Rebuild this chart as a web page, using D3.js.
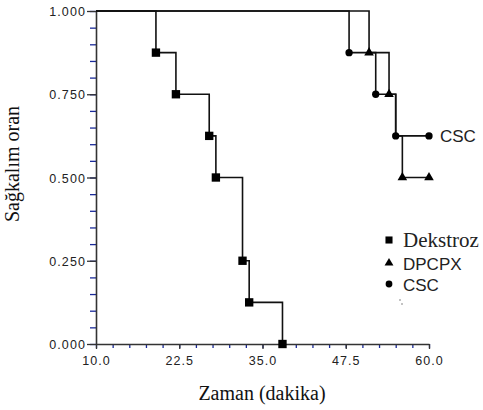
<!DOCTYPE html>
<html>
<head>
<meta charset="utf-8">
<script src="https://cdn.jsdelivr.net/npm/d3@7"></script>
<style>
  html, body { margin: 0; padding: 0; background: #fff; }
  svg { display: block; }
</style>
</head>
<body>
<svg id="chart" width="483" height="410"></svg>
<script>
// Kaplan–Meier style survival curves for three treatment groups
const dekstrozTime = [10, 19, 22, 27, 28, 32, 33, 38];
const dekstrozSurv = [1, 0.875, 0.75, 0.625, 0.5, 0.25, 0.125, 0];

const dpcpxTime = [10, 51, 54, 55, 56, 60];
const dpcpxSurv = [1, 0.875, 0.75, 0.625, 0.5, 0.5];

const cscTime = [10, 48, 52, 55, 60];
const cscSurv = [1, 0.875, 0.75, 0.625, 0.625];

const seriesNames = ["Dekstroz", "DPCPX", "CSC"];
const xTickValues = [10, 22.5, 35, 47.5, 60];
const yTickValues = [0, 0.25, 0.5, 0.75, 1];
const xMinorStep = 2.5;
const yMinorStep = 0.05;

const svg = d3.select("#chart");
const sans = "'Liberation Sans', Arial, sans-serif";
const serif = "'Liberation Serif', 'Times New Roman', serif";

const x = d3.scaleLinear().domain([10, 60]).range([96, 429]);
const y = d3.scaleLinear().domain([0, 1]).range([344, 11]);

const xMinor = d3.range(10, 60 + 1e-9, xMinorStep);
const yMinor = d3.range(0, 1 + 1e-9, yMinorStep);

// minor ticks (blue)
svg.append("g")
  .attr("transform", `translate(${x.range()[0]},0)`)
  .call(d3.axisLeft(y).tickValues(yMinor).tickSize(6).tickFormat(""))
  .call(g => g.select(".domain").remove())
  .call(g => g.selectAll("line").attr("stroke", "#1a2a9a").attr("stroke-width", 1.3));

svg.append("g")
  .attr("transform", `translate(0,${y.range()[0]})`)
  .call(d3.axisBottom(x).tickValues(xMinor).tickSize(4).tickFormat(""))
  .call(g => g.select(".domain").remove())
  .call(g => g.selectAll("line").attr("stroke", "#1a2a9a").attr("stroke-width", 1.3));

// major axes
const yAxis = svg.append("g")
  .attr("transform", `translate(${x.range()[0]},0)`)
  .call(d3.axisLeft(y).tickValues(yTickValues).tickSize(9).tickPadding(1)
    .tickFormat(d3.format(".3f")).tickSizeOuter(0));
yAxis.select(".domain").attr("stroke", "#333").attr("stroke-width", 1.6);
yAxis.selectAll("line").attr("stroke", "#333").attr("stroke-width", 1.3);
yAxis.selectAll("text")
  .attr("font-family", sans).attr("font-size", 12.5)
  .attr("letter-spacing", "1.1px").attr("fill", "#222")
  .attr("dy", "0.36em");

const xAxis = svg.append("g")
  .attr("transform", `translate(0,${y.range()[0]})`)
  .call(d3.axisBottom(x).tickValues(xTickValues).tickSize(5).tickPadding(7)
    .tickFormat(d3.format(".1f")).tickSizeOuter(0));
xAxis.select(".domain").attr("stroke", "#333").attr("stroke-width", 1.6);
xAxis.selectAll("line").attr("stroke", "#333").attr("stroke-width", 1.3);
xAxis.selectAll("text")
  .attr("font-family", sans).attr("font-size", 12.5)
  .attr("letter-spacing", "1.1px").attr("fill", "#222");

// axis titles
svg.append("text")
  .attr("x", 262).attr("y", 400)
  .attr("text-anchor", "middle")
  .attr("font-family", serif).attr("font-size", 20)
  .attr("fill", "#111")
  .text("Zaman (dakika)");

svg.append("text")
  .attr("transform", "translate(19,164) rotate(-90)")
  .attr("text-anchor", "middle")
  .attr("font-family", serif).attr("font-size", 20)
  .attr("fill", "#111")
  .text("Sağkalım oran");

// step curves
const step = d3.line()
  .x(d => x(d[0])).y(d => y(d[1]))
  .curve(d3.curveStepAfter);

const series = [
  { name: seriesNames[0], time: dekstrozTime, surv: dekstrozSurv, symbol: d3.symbolSquare, size: 70 },
  { name: seriesNames[1], time: dpcpxTime, surv: dpcpxSurv, symbol: d3.symbolTriangle, size: 40 },
  { name: seriesNames[2], time: cscTime, surv: cscSurv, symbol: d3.symbolCircle, size: 42 }
];

series.forEach(s => {
  const pts = s.time.map((t, i) => [t, s.surv[i]]);
  svg.append("path")
    .datum(pts)
    .attr("d", step)
    .attr("fill", "none")
    .attr("stroke", "#111")
    .attr("stroke-width", 1.6);
});

// event markers; where a later group has an event at the same point,
// only the later group's marker is drawn
const sameAs = (a, b) => a[0] === b[0] && a[1] === b[1];
series.forEach((s, si) => {
  const later = series.slice(si + 1).flatMap(o => o.time.map((t, i) => [t, o.surv[i]]));
  const pts = s.time.map((t, i) => [t, s.surv[i]]).slice(1)
    .filter(p => !later.some(q => sameAs(p, q)));
  svg.append("g").selectAll("path")
    .data(pts)
    .join("path")
    .attr("transform", d => `translate(${x(d[0])},${y(d[1])})`)
    .attr("d", d3.symbol(s.symbol, s.size))
    .attr("fill", "#000");
});

// end label for the CSC curve
svg.append("text")
  .attr("x", x(cscTime[cscTime.length - 1]) + 11)
  .attr("y", y(cscSurv[cscSurv.length - 1]) + 6)
  .attr("font-family", sans).attr("font-size", 17)
  .attr("fill", "#222")
  .text(seriesNames[2]);

// legend
const legend = svg.append("g").attr("transform", "translate(389,240)");
const legendRows = [
  { label: seriesNames[0], symbol: d3.symbolSquare, size: 50, font: serif, fs: 21, dy: 0 },
  { label: seriesNames[1], symbol: d3.symbolTriangle, size: 34, font: sans, fs: 17, dy: 23 },
  { label: seriesNames[2], symbol: d3.symbolCircle, size: 36, font: sans, fs: 17, dy: 44 }
];
legendRows.forEach(r => {
  legend.append("path")
    .attr("transform", `translate(0,${r.dy})`)
    .attr("d", d3.symbol(r.symbol, r.size))
    .attr("fill", "#000");
  legend.append("text")
    .attr("x", 14).attr("y", r.dy + 7)
    .attr("font-family", r.font).attr("font-size", r.fs)
    .attr("fill", "#222")
    .text(r.label);
});
// small speck under the legend
legend.append("circle").attr("cx", 11).attr("cy", 60).attr("r", 0.8).attr("fill", "#777");
legend.append("circle").attr("cx", 13).attr("cy", 64).attr("r", 0.8).attr("fill", "#777");
</script>
</body>
</html>
